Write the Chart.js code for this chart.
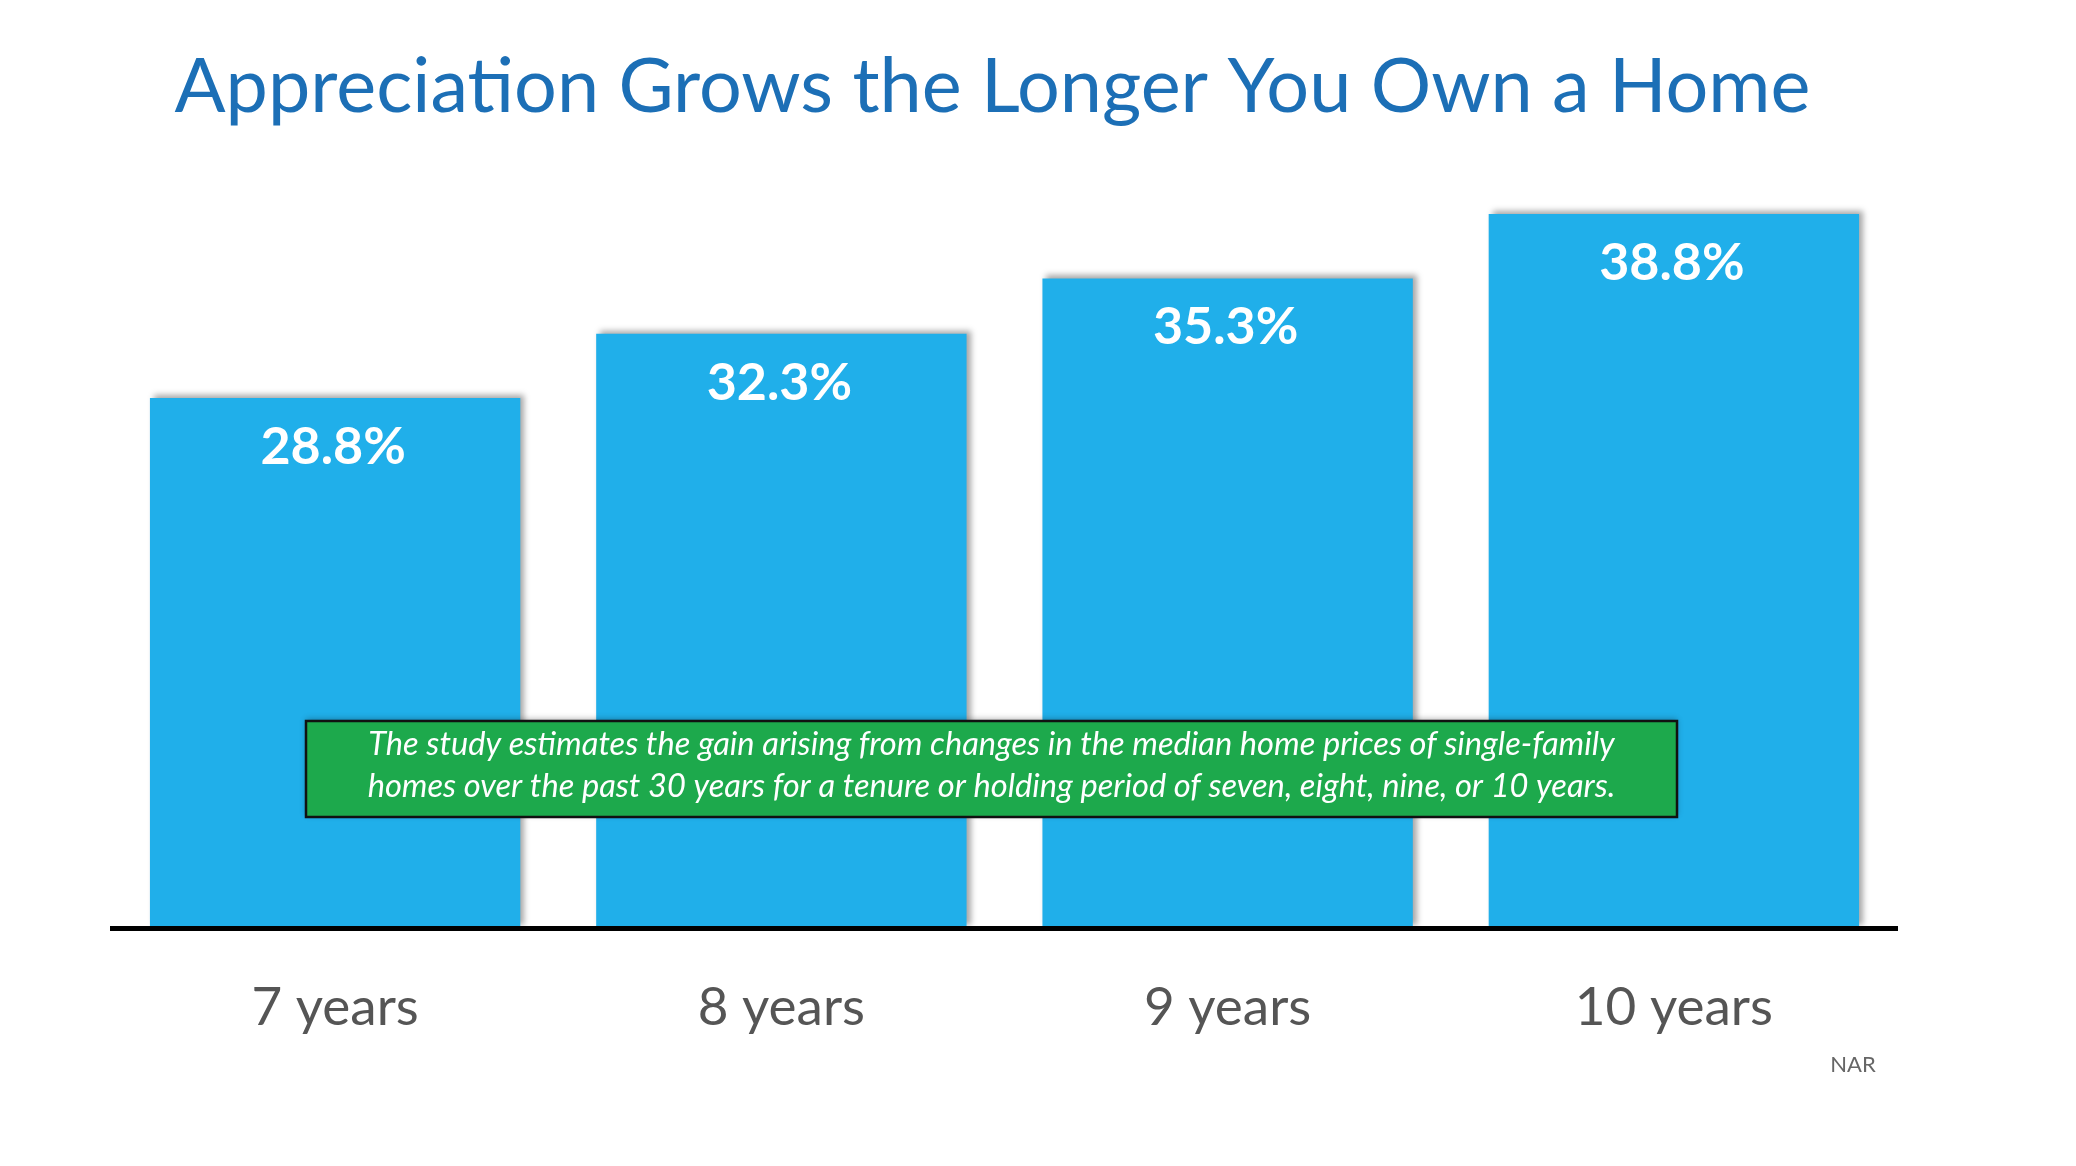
<!DOCTYPE html>
<html>
<head>
<meta charset="utf-8">
<script src="https://cdn.jsdelivr.net/npm/chart.js@4.4.1/dist/chart.umd.min.js"></script>
<style>
  html, body { margin: 0; padding: 0; background: #ffffff; }
  #wrap { width: 2076px; height: 1166px; position: relative; }
</style>
</head>
<body>
<div id="wrap"><canvas id="c"></canvas></div>
<script>
// ---- data ----
const categories = ['7 years', '8 years', '9 years', '10 years'];
const appreciation = [28.8, 32.3, 35.3, 38.8];
const valueLabels = ['28.8%', '32.3%', '35.3%', '38.8%'];
const titleText = 'Appreciation Grows the Longer You Own a Home';
const noteLines = [
  'The study estimates the gain arising from changes in the median home prices of single-family',
  'homes over the past 30 years for a tenure or holding period of seven, eight, nine, or 10 years.'
];
const sourceText = 'NAR';

// ---- styling ----
const BAR = '#20AFEA';
const TITLE_COLOR = '#1C6FB6';
const GREEN = '#1DA94C';

const mctx = document.createElement('canvas').getContext('2d');
function fitSize(text, weight, style, family, target) {
  mctx.font = `${style} ${weight} 100px ${family}`;
  return 100 * target / mctx.measureText(text).width;
}
const titleSize = fitSize(titleText, 'normal', 'normal', 'Lato', 1636);
const noteSize = fitSize(noteLines[0], 'normal', 'italic', 'Lato', 1247);

const chartTop = 192, chartBottom = 928;
const titleLH = titleSize * 1.2;
const titlePadTop = 88 - titleLH / 2;
const titlePadBottom = chartTop - titlePadTop - titleLH;
const titleShift = -12;

const overlay = {
  id: 'overlay',
  afterLayout(chart) {
    const t = chart.titleBlock;
    if (t) { t.left += titleShift; t.right += titleShift; }
  },
  beforeDatasetsDraw(chart) {
    const c = chart.ctx;
    c.save();
    c.shadowColor = 'rgba(0,0,0,0.35)';
    c.shadowBlur = 6;
    c.shadowOffsetX = 4;
    c.shadowOffsetY = -3;
  },
  afterDatasetsDraw(chart) {
    const c = chart.ctx;
    c.restore();
    // value labels inside bars
    const meta = chart.getDatasetMeta(0);
    c.save();
    c.fillStyle = '#ffffff';
    c.font = 'bold 52px Lato';
    c.textAlign = 'center';
    c.textBaseline = 'alphabetic';
    meta.data.forEach((bar, i) => {
      c.fillText(valueLabels[i], bar.x - 2, bar.y + 66);
    });
    c.restore();

    // note box
    c.save();
    c.shadowColor = 'rgba(0,0,0,0.3)';
    c.shadowBlur = 6;
    c.shadowOffsetY = -2;
    c.fillStyle = GREEN;
    c.fillRect(306, 721, 1371, 96);
    c.restore();
    c.save();
    c.strokeStyle = '#111';
    c.lineWidth = 2.5;
    c.strokeRect(306, 721, 1371, 96);
    c.fillStyle = '#ffffff';
    c.font = `italic ${noteSize}px Lato`;
    c.textAlign = 'center';
    c.textBaseline = 'alphabetic';
    c.fillText(noteLines[0], 991.5, 755);
    c.fillText(noteLines[1], 991.5, 797);
    c.restore();
  },
  afterDraw(chart) {
    const c = chart.ctx;
    c.save();
    c.fillStyle = '#666666';
    c.font = '22px Lato';
    c.textAlign = 'center';
    c.textBaseline = 'alphabetic';
    c.fillText(sourceText, 1853, 1072);
    c.restore();
  }
};

new Chart(document.getElementById('c'), {
  type: 'bar',
  data: {
    labels: categories,
    datasets: [{
      data: appreciation,
      backgroundColor: BAR,
      borderWidth: 0,
      barPercentage: 1.0,
      categoryPercentage: 0.83
    }]
  },
  options: {
    responsive: true,
    maintainAspectRatio: false,
    animation: false,
    devicePixelRatio: 1,
    layout: { padding: { left: 112, right: 179, top: 0, bottom: 0 } },
    plugins: {
      legend: { display: false },
      tooltip: { enabled: false },
      title: {
        display: true,
        text: titleText,
        color: TITLE_COLOR,
        font: { family: 'Lato', size: titleSize, weight: 'normal' },
        padding: { top: titlePadTop, bottom: titlePadBottom }
      }
    },
    scales: {
      y: { display: false, min: 0, max: 40 },
      x: {
        grid: { display: false, drawTicks: false },
        border: { display: true, color: '#000000', width: 5, z: 1 },
        ticks: {
          color: '#555555',
          font: { family: 'Lato', size: 53 },
          padding: 48
        },
        afterFit(scale) { scale.height = 1166 - chartBottom; }
      }
    }
  },
  plugins: [overlay]
});
</script>
</body>
</html>
